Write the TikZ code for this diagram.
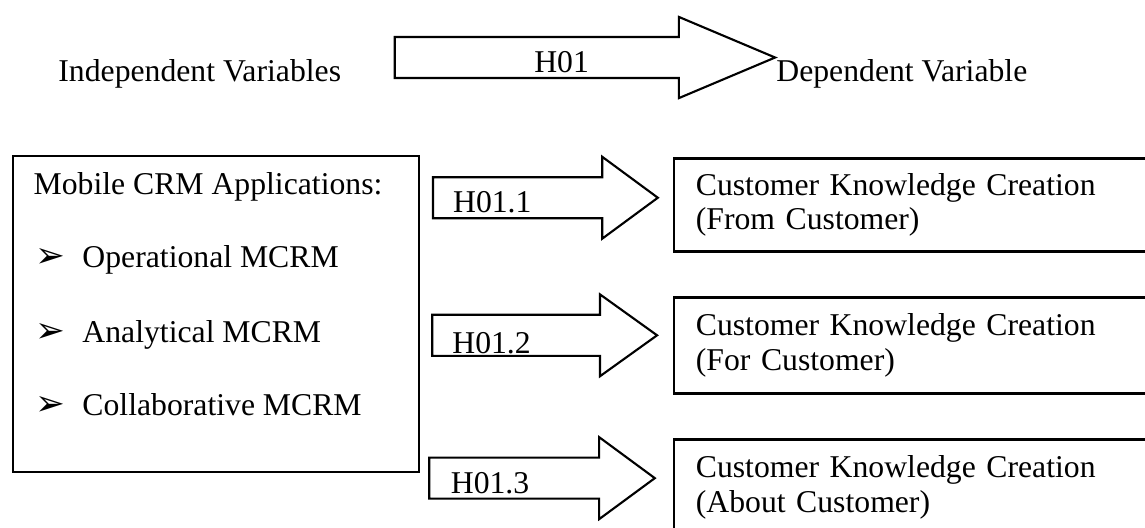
\documentclass[tikz,border=0pt]{standalone}
\usepackage{fontspec}
\setmainfont{Liberation Serif}
\newfontfamily\dingfont{DejaVu Sans}
\usetikzlibrary{positioning}
\newcommand{\pointer}{\makebox[0.62cm][l]{\fontsize{13.5pt}{14pt}\dingfont\symbol{"27A2}}}

\begin{document}
\begin{tikzpicture}[font=\fontsize{12pt}{13.2pt}\selectfont,every node/.style={inner sep=0pt,text=black},plainbox/.style={draw=black,line width=0.8pt},hollowarrow/.style={draw=black,line width=0.8pt,fill=white,line join=miter},outbox/.style={draw=black,line width=0.9pt,anchor=north west,text width=8cm,align=left,inner xsep=0.29cm},item/.style={anchor=base west}]
\useasboundingbox (0,0) rectangle (15.23,-7.01);
\clip (0,0) rectangle (15.23,-7.01);
\node[item] (indep) at (0.77,-1.08) {Independent Variables};
\draw[hollowarrow] (5.25,-0.492) -- (9.03,-0.492) -- (9.03,-0.225) -- (10.31,-0.765) -- (9.03,-1.305) -- (9.03,-1.038) -- (5.25,-1.038) -- cycle;
\node[anchor=base] (hmain) at (7.47,-0.96) {H01};
\node[item] (dep) at (10.32,-1.08) {Dependent Variable};
\node[plainbox,anchor=north west,minimum width=5.4cm,minimum height=4.2cm] (apps) at (0.16,-2.06) {};
\node[item] (appsTitle) at (0.44,-2.59) {Mobile CRM Applications:};
\node[item] (opItem) at (0.47,-3.56) {\pointer Operational MCRM};
\node[item] (anItem) at (0.47,-4.55) {\pointer Analytical MCRM};
\node[item] (coItem) at (0.47,-5.52) {\pointer Collaborative MCRM};
\draw[hollowarrow] (5.76,-2.357) -- (8.01,-2.357) -- (8.01,-2.085) -- (8.75,-2.63) -- (8.01,-3.175) -- (8.01,-2.903) -- (5.76,-2.903) -- cycle;
\draw[hollowarrow] (5.75,-4.187) -- (7.98,-4.187) -- (7.98,-3.915) -- (8.74,-4.46) -- (7.98,-5.005) -- (7.98,-4.733) -- (5.75,-4.733) -- cycle;
\draw[hollowarrow] (5.71,-6.087) -- (7.97,-6.087) -- (7.97,-5.815) -- (8.71,-6.36) -- (7.97,-6.905) -- (7.97,-6.633) -- (5.71,-6.633) -- cycle;
\node[item] (hFrom) at (6.02,-2.82) {H01.1};
\node[item] (hFor) at (6.01,-4.70) {H01.2};
\node[item] (hAbout) at (5.99,-6.56) {H01.3};
\node[outbox,minimum height=1.24cm] (kcFrom) at (8.95,-2.09) {Customer Knowledge Creation\\(From Customer)};
\node[outbox,minimum height=1.28cm] (kcFor) at (8.95,-3.94) {Customer Knowledge Creation\\(For Customer)};
\node[outbox,minimum height=1.28cm] (kcAbout) at (8.95,-5.83) {Customer Knowledge Creation\\(About Customer)};
\end{tikzpicture}
\end{document}
